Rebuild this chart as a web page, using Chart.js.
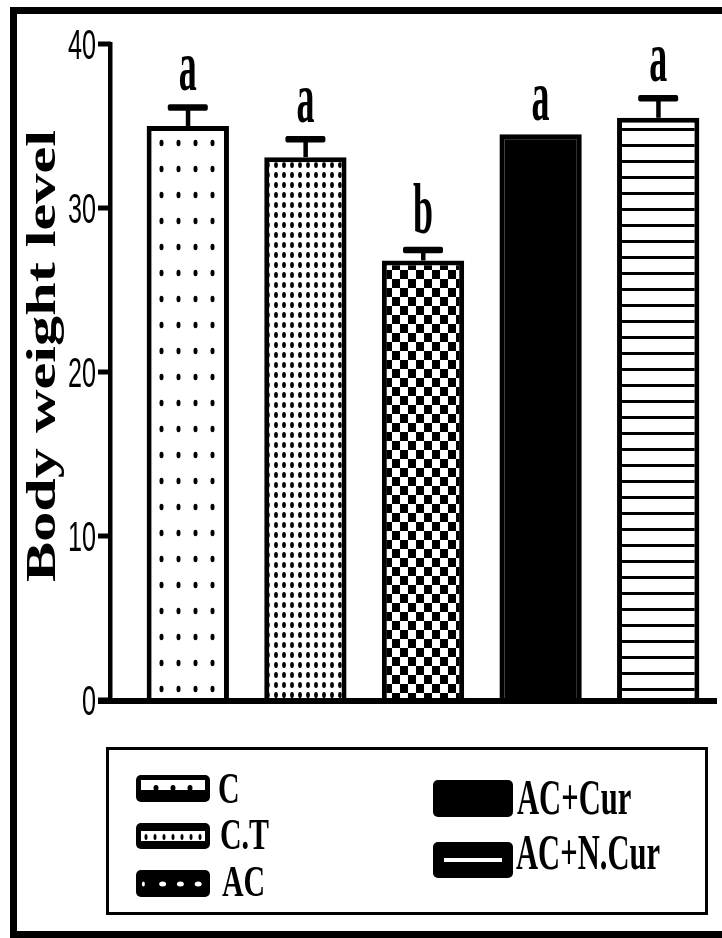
<!DOCTYPE html>
<html>
<head>
<meta charset="utf-8">
<script src="https://cdn.jsdelivr.net/npm/chart.js@4.4.1/dist/chart.umd.min.js"></script>
<style>
    html, body { margin: 0; padding: 0; background: #fff; }
    #wrap { width: 722px; height: 938px; position: relative; }
</style>
</head>
<body>
<div id="wrap"><canvas id="bodyChart" width="722" height="938"></canvas></div>
<script>
// Body weight per group
const categories = ['C', 'C.T', 'AC', 'AC+Cur', 'AC+N.Cur'];
const bodyWeight = [35.0, 33.1, 26.8, 34.5, 35.5];
const errorSD = [1.15, 1.1, 0.65, 0, 1.2];
const sigLetters = ['a', 'a', 'b', 'a', 'a'];
const yTicks = [0, 10, 20, 30, 40];
const yTitle = 'Body weight level';

// pattern tiles for the bar fills
function makePattern(w, h, paint) {
    const c = document.createElement('canvas');
    c.width = w;
    c.height = h;
    const g = c.getContext('2d');
    g.fillStyle = '#fff';
    g.fillRect(0, 0, w, h);
    g.fillStyle = '#000';
    paint(g);
    return document.createElement('canvas').getContext('2d').createPattern(c, 'repeat');
}

function dot(g, x, y, rx, ry) {
    g.beginPath();
    g.ellipse(x, y, rx, ry, 0, 0, Math.PI * 2);
    g.fill();
}

const fills = [
    makePattern(17, 26, g => dot(g, 8.5, 13, 2, 3.2)),
    makePattern(8, 10, g => dot(g, 4, 5, 1.9, 3)),
    makePattern(16, 18, g => { g.fillRect(0, 0, 8, 9); g.fillRect(8, 9, 8, 9); }),
    '#000',
    makePattern(4, 16, g => g.fillRect(0, 0, 4, 3))
];

function condensedText(ctx, text, x, y, font, sx, align) {
    ctx.save();
    ctx.font = font;
    ctx.translate(x, y);
    ctx.scale(sx, 1);
    ctx.textAlign = align || 'left';
    ctx.textBaseline = 'alphabetic';
    ctx.fillText(text, 0, 0);
    ctx.restore();
}

function swatch(ctx, x, y, w, h, inner) {
    ctx.fillStyle = '#000';
    ctx.beginPath();
    ctx.roundRect(x, y, w, h, 5);
    ctx.fill();
    inner(ctx, x, y, w, h);
}

const decorPlugin = {
    id: 'decor',
    afterDraw(chart) {
        const ctx = chart.ctx;
        const area = chart.chartArea;
        const y = chart.scales.y;
        const meta = chart.getDatasetMeta(0);
        const axisX = area.left - 19;

        ctx.save();
        ctx.fillStyle = '#000';
        ctx.strokeStyle = '#000';

        // outer frame
        ctx.lineWidth = 7;
        ctx.strokeRect(13.5, 10.5, 722, 924);

        // y axis with ticks
        ctx.fillRect(axisX - 2, y.getPixelForValue(40) - 2, 4.5, y.getPixelForValue(0) - y.getPixelForValue(40) + 2);
        yTicks.forEach(t => {
            const py = y.getPixelForValue(t);
            ctx.fillRect(axisX - 12, py - 2.5, 13, 5);
            condensedText(ctx, String(t), axisX - 14, py + 15, '42px "Liberation Sans"', 0.6, 'right');
        });
        // x axis line
        ctx.fillRect(axisX - 12, y.getPixelForValue(0) - 2, area.right - axisX + 12, 6);

        // error bars and letters
        meta.data.forEach((bar, i) => {
            const cx = bar.x;
            let topY = bar.y;
            if (errorSD[i] > 0) {
                const ey = y.getPixelForValue(bodyWeight[i] + errorSD[i]);
                ctx.fillRect(cx - 2, ey, 4.5, bar.y - ey);
                ctx.beginPath();
                ctx.roundRect(cx - 20, ey - 3, 40, 6.5, 2);
                ctx.fill();
                topY = ey - 3;
            }
            condensedText(ctx, sigLetters[i], cx, topY - 14, 'bold 72px "Liberation Serif"', 0.5, 'center');
        });

        // y title, stretched along the axis
        ctx.save();
        ctx.font = 'bold 42px "Liberation Serif"';
        const tw = ctx.measureText(yTitle).width;
        ctx.translate(55, 356);
        ctx.rotate(-Math.PI / 2);
        ctx.scale(452 / tw, 1);
        ctx.textAlign = 'center';
        ctx.fillText(yTitle, 0, 0);
        ctx.restore();

        // legend box
        ctx.lineWidth = 3;
        ctx.strokeRect(107.5, 748.5, 599, 165);

        const small = 'bold 44px "Liberation Serif"';
        const big = 'bold 51px "Liberation Serif"';
        swatch(ctx, 136, 775, 74, 27, (c, x, yy, w) => {
            c.fillStyle = '#fff';
            c.fillRect(x + 5, yy + 5, w - 10, 10);
            c.fillStyle = '#000';
            [0.27, 0.5, 0.73].forEach(f => dot(c, x + w * f, yy + 13, 2.5, 3));
        });
        swatch(ctx, 136, 823, 74, 26, (c, x, yy, w) => {
            c.fillStyle = '#fff';
            c.fillRect(x + 5, yy + 8, w - 10, 10);
            c.fillStyle = '#000';
            for (let k = 0; k < 7; k++) dot(c, x + 10 + k * 9, yy + 14, 1.5, 3);
        });
        swatch(ctx, 136, 870, 74, 27, (c, x, yy, w) => {
            c.fillStyle = '#fff';
            [0.1, 0.36, 0.6, 0.84].forEach((f, k) => dot(c, x + w * f, yy + 14, k ? 3.5 : 1.5, 2.5));
        });
        swatch(ctx, 433, 780, 80, 37, () => {});
        swatch(ctx, 433, 842, 80, 36, (c, x, yy, w, h) => {
            c.fillStyle = '#fff';
            c.fillRect(x + 11, yy + h / 2 - 2, w - 22, 4);
        });
        ctx.fillStyle = '#000';
        condensedText(ctx, categories[0], 218, 803, small, 0.68);
        condensedText(ctx, categories[1], 220, 849, small, 0.68);
        condensedText(ctx, categories[2], 222, 896, small, 0.68);
        condensedText(ctx, categories[3], 517, 814, big, 0.6);
        condensedText(ctx, categories[4], 516, 869, big, 0.6);

        ctx.restore();
    }
};

new Chart(document.getElementById('bodyChart'), {
    type: 'bar',
    data: {
        labels: categories,
        datasets: [{
            data: bodyWeight,
            backgroundColor: fills,
            borderColor: '#000',
            borderWidth: 5,
            borderSkipped: 'bottom',
            categoryPercentage: 1,
            barPercentage: 0.7
        }]
    },
    options: {
        responsive: false,
        animation: false,
        devicePixelRatio: 1,
        layout: { padding: { left: 129, right: 5, top: 44, bottom: 238 } },
        plugins: {
            legend: { display: false },
            tooltip: { enabled: false }
        },
        scales: {
            x: { display: false },
            y: { display: false, min: 0, max: 40 }
        }
    },
    plugins: [decorPlugin]
});
</script>
</body>
</html>
